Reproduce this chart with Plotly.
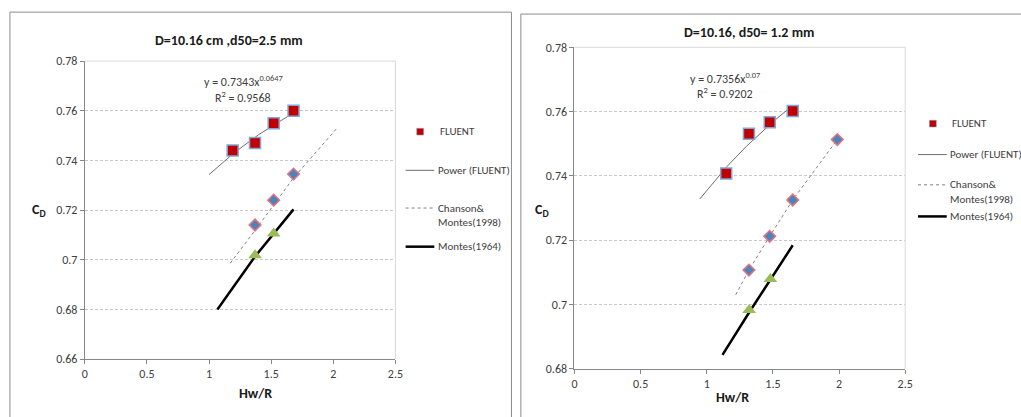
import plotly.graph_objects as go

W, H = 1021, 417

# ---------------- data ----------------
# Left chart: D=10.16 cm, d50=2.5 mm
L_fluent_x = [1.19, 1.37, 1.52, 1.68]
L_fluent_y = [0.744, 0.747, 0.755, 0.760]
L_power_x = [1.0, 1.2, 1.4, 1.68]
L_power_y = [0.7343, 0.7430, 0.7504, 0.7592]
L_chanson_x = [1.37, 1.52, 1.68]
L_chanson_y = [0.714, 0.724, 0.7345]
L_chanson_line_x = [1.17, 1.37, 1.68, 2.03]
L_chanson_line_y = [0.6986, 0.7118, 0.7330, 0.753]
L_montes_x = [1.37, 1.52]
L_montes_y = [0.7018, 0.7106]
L_montes_line_x = [1.067, 1.37, 1.68]
L_montes_line_y = [0.680, 0.7013, 0.7203]

# Right chart: D=10.16, d50=1.2 mm
R_fluent_x = [1.147, 1.319, 1.476, 1.650]
R_fluent_y = [0.7407, 0.7531, 0.7567, 0.7602]
R_power_x = [0.947, 1.15, 1.3, 1.5, 1.643]
R_power_y = [0.7328, 0.7428, 0.7492, 0.7568, 0.7617]
R_chanson_x = [1.319, 1.476, 1.650, 1.987]
R_chanson_y = [0.7107, 0.7212, 0.7325, 0.7513]
R_chanson_line_x = [1.219, 1.319, 1.476, 1.650, 1.987]
R_chanson_line_y = [0.703, 0.7107, 0.7212, 0.7325, 0.7513]
R_montes_x = [1.321, 1.481]
R_montes_y = [0.6983, 0.7079]
R_montes_line_x = [1.119, 1.32, 1.65]
R_montes_line_y = [0.6843, 0.6975, 0.7184]

titles = ["D=10.16 cm ,d50=2.5 mm", "D=10.16, d50= 1.2 mm"]
equations = [["y = 0.7343x<sup>0.0647</sup>", "R<sup>2</sup> = 0.9568"],
             ["y = 0.7356x<sup>0.07</sup>", "R<sup>2</sup> = 0.9202"]]
legend_names = ["FLUENT", "Power (FLUENT)", "Chanson&", "Montes(1998)", "Montes(1964)"]
x_ticks = [0, 0.5, 1, 1.5, 2, 2.5]

FONT = "Carlito, Lato, sans-serif"
RED = "#C00000"
BLUE = "#4F81BD"
PINK = "#E0767C"
GREEN = "#9BBB59"
AXC = "#868686"


def px(x):
    return x / W


def py(y):
    return 1 - y / H


fig = go.Figure()


def add_series(xa, ya, fx, fy, px_, py_, cx, cy, cpx, cpy, mx, my, mlx, mly):
    fig.add_trace(go.Scatter(x=px_, y=py_, mode="lines", xaxis=xa, yaxis=ya,
                             line=dict(color="#6E6E6E", width=1), showlegend=False))
    fig.add_trace(go.Scatter(x=cpx, y=cpy, mode="lines", xaxis=xa, yaxis=ya,
                             line=dict(color="#7F7F7F", width=1, dash="dot"), showlegend=False))
    fig.add_trace(go.Scatter(x=mlx, y=mly, mode="lines", xaxis=xa, yaxis=ya,
                             line=dict(color="black", width=2.5), showlegend=False))
    fig.add_trace(go.Scatter(x=mx, y=my, mode="markers", xaxis=xa, yaxis=ya,
                             marker=dict(symbol="triangle-up", size=12, color=GREEN),
                             showlegend=False))
    fig.add_trace(go.Scatter(x=cx, y=cy, mode="markers", xaxis=xa, yaxis=ya,
                             marker=dict(symbol="diamond", size=9, color=BLUE,
                                         line=dict(color=PINK, width=1.5)),
                             showlegend=False))
    fig.add_trace(go.Scatter(x=fx, y=fy, mode="markers", xaxis=xa, yaxis=ya,
                             marker=dict(symbol="square", size=11, color=RED,
                                         line=dict(color="#7DA7D9", width=1.5)),
                             showlegend=False))


add_series("x", "y", L_fluent_x, L_fluent_y, L_power_x, L_power_y, L_chanson_x, L_chanson_y,
           L_chanson_line_x, L_chanson_line_y, L_montes_x, L_montes_y, L_montes_line_x, L_montes_line_y)
add_series("x2", "y2", R_fluent_x, R_fluent_y, R_power_x, R_power_y, R_chanson_x, R_chanson_y,
           R_chanson_line_x, R_chanson_line_y, R_montes_x, R_montes_y, R_montes_line_x, R_montes_line_y)

xcommon = dict(range=[0, 2.5], tickvals=x_ticks, showgrid=False, zeroline=False,
               showline=True, linecolor=AXC, linewidth=1, ticks="outside", ticklen=4,
               tickcolor=AXC, tickfont=dict(family=FONT, size=12, color="#404040"))
ycommon = dict(dtick=0.02, showgrid=True, gridcolor="#C8C8C8", griddash="3px,2px", gridwidth=1,
               zeroline=False, showline=True, linecolor=AXC, linewidth=1, ticks="outside",
               ticklen=4, tickcolor=AXC, tickfont=dict(family=FONT, size=12, color="#404040"))

fig.update_layout(
    width=W, height=H, margin=dict(l=0, r=0, t=0, b=0),
    paper_bgcolor="white", plot_bgcolor="white", showlegend=False,
    font=dict(family=FONT, size=12, color="#404040"),
    xaxis=dict(domain=[px(82.7), px(396.7)], anchor="y", **xcommon),
    yaxis=dict(domain=[py(364.3), py(56)], anchor="x", range=[0.66, 0.78], **ycommon),
    xaxis2=dict(domain=[px(577.7), px(912)], anchor="y2", **xcommon),
    yaxis2=dict(domain=[py(374.3), py(41.7)], anchor="x2", range=[0.68, 0.78], **ycommon),
)

shapes = []
annotations = []

shapes.append(dict(type="rect", xref="paper", yref="paper", x0=px(7), x1=px(514), y0=-0.05, y1=py(5.3),
                   line=dict(color="#8C8C8C", width=1), fillcolor="rgba(0,0,0,0)", layer="below"))
shapes.append(dict(type="rect", xref="paper", yref="paper", x0=px(523.5), x1=1.05, y0=-0.05, y1=py(7.3),
                   line=dict(color="#8C8C8C", width=1), fillcolor="rgba(0,0,0,0)", layer="below"))

for xr, yr in [("x domain", "y domain"), ("x2 domain", "y2 domain")]:
    shapes.append(dict(type="line", xref=xr, yref=yr, x0=0, x1=1, y0=1, y1=1,
                       line=dict(color="#D9D9D9", width=1)))
    shapes.append(dict(type="line", xref=xr, yref=yr, x0=1, x1=1, y0=0, y1=1,
                       line=dict(color="#D9D9D9", width=1)))


def text(x, y, s, size=11, bold=False, anchor="center", color="#404040"):
    annotations.append(dict(x=px(x), y=py(y), xref="paper", yref="paper", text=(f"<b>{s}</b>" if bold else s),
                            showarrow=False, xanchor=anchor, yanchor="middle",
                            font=dict(family=FONT, size=size, color=color)))


text(228, 35, titles[0], size=14, bold=True, color="#1a1a1a")
text(754, 26, titles[1], size=14, bold=True, color="#1a1a1a")
text(255, 400, "Hw/R", size=14, bold=True, color="#1a1a1a")
text(737, 404, "Hw/R", size=14, bold=True, color="#1a1a1a")
text(36, 211, "C<sub>D</sub>", size=14, bold=True, color="#1a1a1a")
text(545, 211, "C<sub>D</sub>", size=14, bold=True, color="#1a1a1a")

text(243, 77, equations[0][0], size=12)
text(243, 93, equations[0][1], size=12)
text(730, 73, equations[1][0], size=12)
text(730, 89, equations[1][1], size=12)


def legend(mx, my, tx, lx0, lx1, ys):
    shapes.append(dict(type="rect", xref="paper", yref="paper", x0=px(mx - 3.5), x1=px(mx + 3.5),
                       y0=py(my + 3.5), y1=py(my - 3.5), fillcolor=RED,
                       line=dict(color="#7DA7D9", width=0.5)))
    text(tx, my, legend_names[0], size=11, anchor="left")
    shapes.append(dict(type="line", xref="paper", yref="paper", x0=px(lx0), x1=px(lx1), y0=py(ys[0]), y1=py(ys[0]),
                       line=dict(color="#6E6E6E", width=1)))
    text(lx1 + 1.5, ys[0], legend_names[1], size=11, anchor="left")
    shapes.append(dict(type="line", xref="paper", yref="paper", x0=px(lx0), x1=px(lx1), y0=py(ys[1]), y1=py(ys[1]),
                       line=dict(color="#7F7F7F", width=1, dash="dot")))
    text(lx1 + 1.5, ys[1], legend_names[2], size=11, anchor="left")
    text(lx1 + 1.5, ys[2], legend_names[3], size=11, anchor="left")
    shapes.append(dict(type="line", xref="paper", yref="paper", x0=px(lx0), x1=px(lx1), y0=py(ys[3]), y1=py(ys[3]),
                       line=dict(color="black", width=2.5)))
    text(lx1 + 1.5, ys[3], legend_names[4], size=11, anchor="left")


legend(421.7, 129, 440, 407, 436, [169, 208, 223, 248])
legend(940, 120.7, 957.7, 925, 954, [152.7, 184, 199, 216.7])

fig.update_layout(shapes=shapes, annotations=annotations)
fig.write_html("out.html")
